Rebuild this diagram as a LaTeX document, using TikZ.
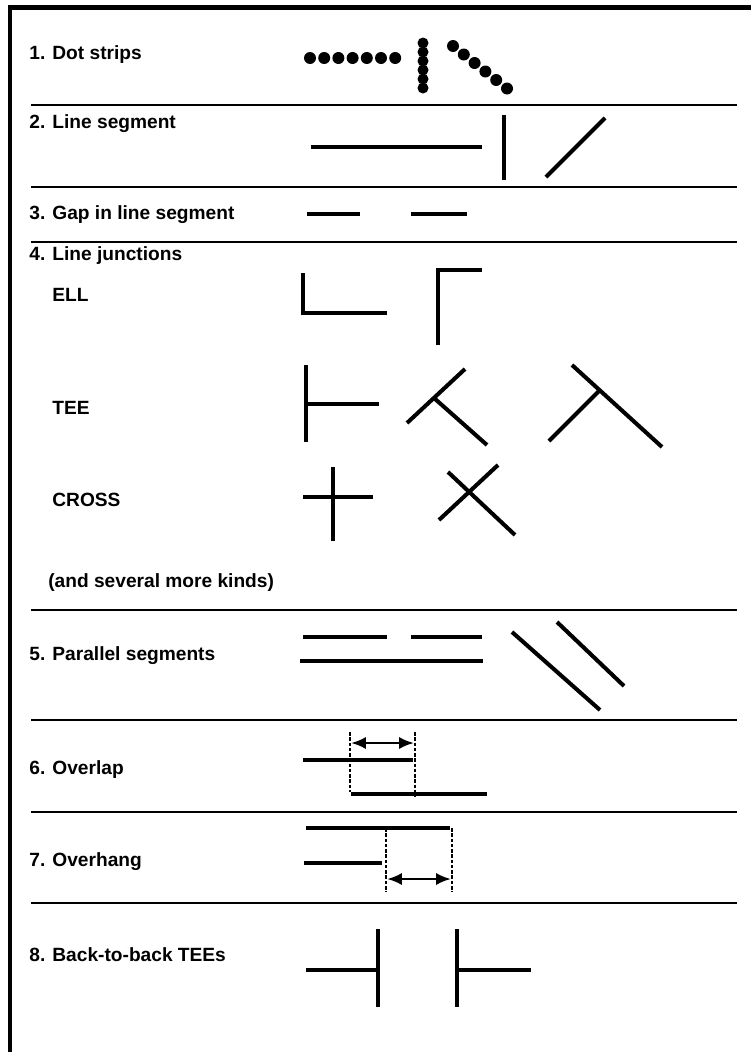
\documentclass[tikz,border=0pt]{standalone}
\usepackage{fontspec}
\setmainfont{Liberation Sans}
\usetikzlibrary{arrows.meta}

\tikzset{
  sep/.style={line width=1.3pt},
  seg/.style={line width=2.3pt},
  lbl/.style={anchor=west, inner sep=0pt, font=\bfseries\fontsize{10.9}{12}\selectfont},
  guide/.style={line width=1.1pt, dash pattern=on 2pt off 1pt},
  span/.style={line width=1.5pt, {Latex[length=8.5pt,width=7pt]}-{Latex[length=8.5pt,width=7pt]}},
}

\begin{document}
\begin{tikzpicture}[x=0.02cm, y=-0.02cm]
\useasboundingbox (0,0) rectangle (751,1052);

% frame
\draw [line width=2.3pt] (10,1052) -- (10,7.5) -- (751,7.5);

% separators
\foreach \y in {105,187,242,610,720,812,903}
  \draw [sep] (31,\y) -- (737,\y);

% labels
\node [lbl] (dotstrips) at (29,55) {1. Dot strips};
\node [lbl] (lineseg) at (29,124) {2. Line segment};
\node [lbl] (gapseg) at (29,215) {3. Gap in line segment};
\node [lbl] (junctions) at (29,256) {4. Line junctions};
\node [lbl] (ell) at (52,295) {ELL};
\node [lbl] (tee) at (52,408) {TEE};
\node [lbl] (cross) at (52,500) {CROSS};
\node [lbl] (morekinds) at (48,583) {(and several more kinds)};
\node [lbl] (parallel) at (29,656) {5. Parallel segments};
\node [lbl] (overlap) at (29,770) {6. Overlap};
\node [lbl] (overhang) at (29,862) {7. Overhang};
\node [lbl] (backtee) at (29,955) {8. Back-to-back TEEs};

% 1. dot strips
\foreach \i in {0,...,6}
  \fill (310+14.2*\i,58) circle [radius=0.12cm];
\foreach \i in {0,...,5}
  \fill (423,43+9*\i) circle [radius=0.11cm];
\foreach \i in {0,...,5}
  \fill (453+10.8*\i,46+8.5*\i) circle [radius=0.12cm];

% 2. line segment
\draw [seg] (311,147) -- (482,147);
\draw [seg] (504,115) -- (504,180);
\draw [seg] (546,177) -- (605,118);

% 3. gap
\draw [seg] (307,214) -- (360,214);
\draw [seg] (411,214) -- (467,214);

% 4. junctions
\draw [seg] (303,273) -- (303,313) -- (387,313);
\draw [seg] (438,345) -- (438,270) -- (482,270);
\draw [seg] (306,365) -- (306,442);
\draw [seg] (306,404) -- (379,404);
\draw [seg] (407,423) -- (465,369);
\draw [seg] (434,398) -- (487,445);
\draw [seg] (572,365) -- (662,447);
\draw [seg] (549,441) -- (599,391);
\draw [seg] (303,497) -- (373,497);
\draw [seg] (333,467) -- (333,541);
\draw [seg] (439,520) -- (498,465);
\draw [seg] (448,472) -- (515,535);

% 5. parallel
\draw [seg] (303,637) -- (387,637);
\draw [seg] (411,637) -- (482,637);
\draw [seg] (300,661) -- (483,661);
\draw [seg] (512,632) -- (600,710);
\draw [seg] (557,622) -- (624,686);

% 6. overlap
\draw [seg] (303,760) -- (413,760);
\draw [seg] (351,794) -- (487,794);
\draw [guide] (350,732) -- (350,792);
\draw [guide] (415,732) -- (415,797);
\coordinate (olleft) at (351,743);
\coordinate (olright) at (414,743);
\draw [span] (olleft) -- (olright);

% 7. overhang
\draw [seg] (306,828) -- (450,828);
\draw [seg] (304,863) -- (382,863);
\draw [guide] (386,828) -- (386,892);
\draw [guide] (452,828) -- (452,892);
\coordinate (ohleft) at (387,879);
\coordinate (ohright) at (451,879);
\draw [span] (ohleft) -- (ohright);

% 8. back-to-back
\draw [seg] (378,929) -- (378,1007);
\draw [seg] (306,970) -- (378,970);
\draw [seg] (457,929) -- (457,1007);
\draw [seg] (457,970) -- (531,970);

\end{tikzpicture}
\end{document}
